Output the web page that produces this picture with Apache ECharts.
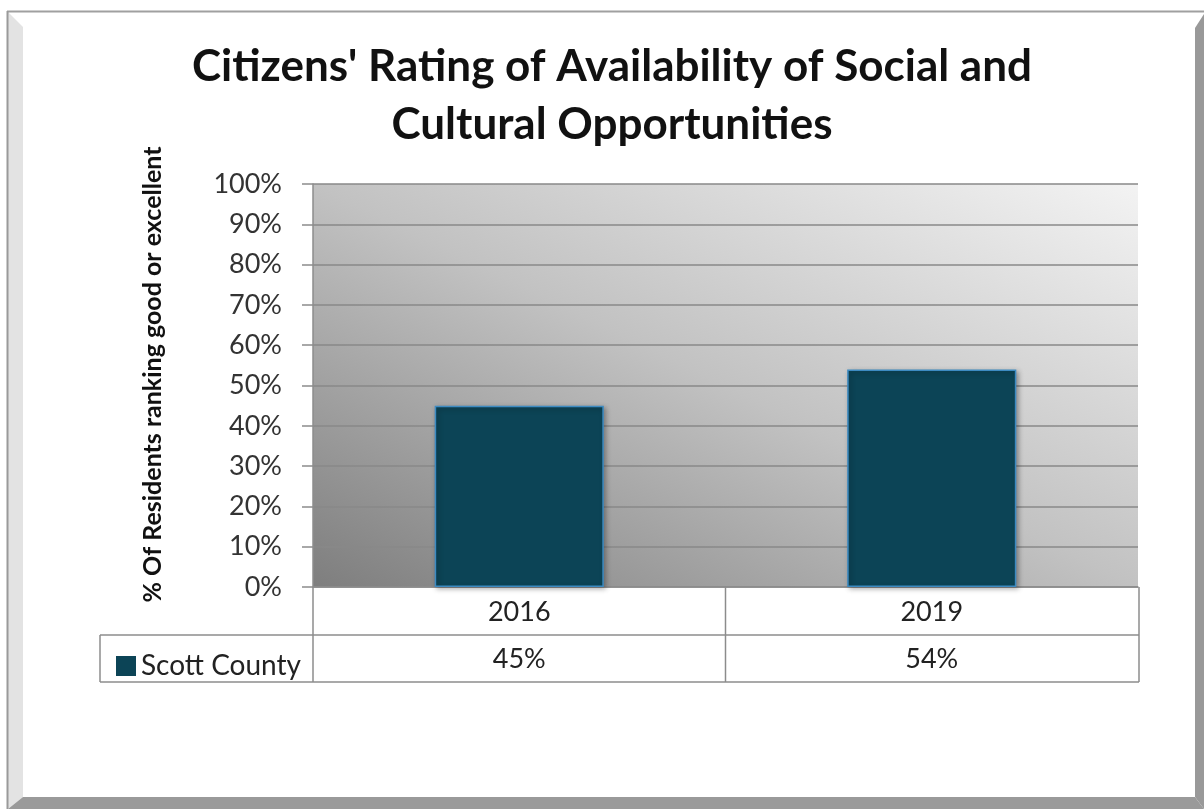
<!DOCTYPE html>
<html>
<head>
<meta charset="utf-8">
<script src="https://cdn.jsdelivr.net/npm/echarts@6/dist/echarts.min.js"></script>
<style>
html,body{margin:0;padding:0;background:#fff;}
#chart{width:1204px;height:809px;}
</style>
</head>
<body>
<div id="chart"></div>
<script>
// ---- data ----
const titleText = "Citizens' Rating of Availability of Social and\nCultural Opportunities";
const yAxisTitle = "% Of Residents ranking good or excellent";
const seriesName = "Scott County";
const categories = ["2016", "2019"];
const values = [0.45, 0.54];
const yMin = 0, yMax = 1, yStep = 0.1;

// ---- layout ----
const G = { left: 313, top: 184, right: 1138, bottom: 587 };
const row1Bottom = 635, row2Bottom = 682, tableLeft = 100;
const lineColor = '#8c8c8c';
const baseFont = 'Lato';

const chart = echarts.init(document.getElementById('chart'), null, { renderer: 'canvas' });

const pct = v => Math.round(v * 100) + '%';

const option = {
  animation: false,
  backgroundColor: '#ffffff',
  title: {
    text: titleText,
    left: 607,
    textAlign: 'center',
    top: 33,
    textStyle: { fontFamily: baseFont, fontWeight: 'bold', fontSize: 44, lineHeight: 58, color: '#111' }
  },
  legend: {
    data: [seriesName],
    left: 111,
    top: 647,
    icon: 'rect',
    itemWidth: 20,
    itemHeight: 20,
    itemGap: 6,
    itemStyle: { borderWidth: 0 },
    textStyle: { fontFamily: baseFont, fontSize: 28, color: '#222' }
  },
  grid: {
    left: G.left, top: G.top,
    width: G.right - G.left, height: G.bottom - G.top,
    show: true,
    borderWidth: 0,
    backgroundColor: new echarts.graphic.LinearGradient(0, 1, 0.385, -0.615, [
      { offset: 0, color: '#7e7e7e' },
      { offset: 0.5, color: '#c2c2c2' },
      { offset: 1, color: '#f3f3f3' }
    ])
  },
  xAxis: [
    {
      type: 'category',
      data: categories,
      position: 'bottom',
      axisLine: { show: true, lineStyle: { color: lineColor, width: 1.5 } },
      axisTick: { show: false },
      axisLabel: { margin: 12, fontFamily: baseFont, fontSize: 27, color: '#222' },
      splitLine: { show: false }
    },
    {
      type: 'category',
      data: values.map(pct),
      position: 'bottom',
      offset: row1Bottom - G.bottom,
      axisLine: { show: false },
      axisTick: { show: false },
      axisLabel: { margin: 11, fontFamily: baseFont, fontSize: 27, color: '#222' }
    }
  ],
  yAxis: {
    type: 'value',
    min: yMin, max: yMax, interval: yStep,
    name: yAxisTitle,
    nameLocation: 'middle',
    nameRotate: 90,
    nameGap: 148,
    nameTextStyle: { fontFamily: baseFont, fontWeight: 'bold', fontSize: 25, color: '#111', padding: [0, 0, 0, 22] },
    axisLine: { show: true, lineStyle: { color: lineColor, width: 1.5 } },
    axisTick: { show: true, length: 11, lineStyle: { color: lineColor, width: 1.5 } },
    axisLabel: { margin: 31, fontFamily: baseFont, fontSize: 27, color: '#333', formatter: pct },
    splitLine: { show: true, lineStyle: { color: '#888', width: 1.5 } }
  },
  series: [{
    name: seriesName,
    type: 'bar',
    xAxisIndex: 0,
    data: values,
    barWidth: '41%',
    itemStyle: {
      color: '#0c4456',
      borderColor: '#3d8bc2',
      borderWidth: 1.5,
      shadowBlur: 5,
      shadowColor: 'rgba(0,0,0,0.35)',
      shadowOffsetX: 2,
      shadowOffsetY: 2
    }
  }]
};

chart.setOption(option);

// ---- frame + data table borders ----
const x0 = chart.convertToPixel({ xAxisIndex: 0 }, 0);
const x1 = chart.convertToPixel({ xAxisIndex: 0 }, 1);
const midX = (x0 + x1) / 2;
const ls = { stroke: lineColor, lineWidth: 1.5 };
const line = (a, b, c, d) => ({ type: 'line', shape: { x1: a, y1: b, x2: c, y2: d }, style: ls, z: 5, silent: true });

chart.setOption({
  graphic: [
    { type: 'polygon', shape: { points: [[8, 12], [23, 27], [23, 797], [8, 809]] }, style: { fill: '#e3e3e3' }, z: -10 },
    { type: 'polygon', shape: { points: [[1204, 14], [1195, 28], [1195, 797], [1204, 809]] }, style: { fill: '#999999' }, z: -10 },
    { type: 'polygon', shape: { points: [[8, 809], [23, 797], [1195, 797], [1204, 809]] }, style: { fill: '#9a9a9a' }, z: -10 },
    { type: 'line', shape: { x1: 7, y1: 11.5, x2: 1204, y2: 11.5 }, style: { stroke: '#a0a0a0', lineWidth: 2 }, z: -9 },
    { type: 'line', shape: { x1: 7.5, y1: 11, x2: 7.5, y2: 809 }, style: { stroke: '#9a9a9a', lineWidth: 2 }, z: -9 },
    line(G.left, G.bottom, G.left, row2Bottom),
    line(midX, G.bottom, midX, row2Bottom),
    line(G.right + 1, G.bottom, G.right + 1, row2Bottom),
    line(tableLeft, row1Bottom, G.right + 1, row1Bottom),
    line(tableLeft, row2Bottom, G.right + 1, row2Bottom),
    line(tableLeft, row1Bottom, tableLeft, row2Bottom)
  ]
});
</script>
</body>
</html>
